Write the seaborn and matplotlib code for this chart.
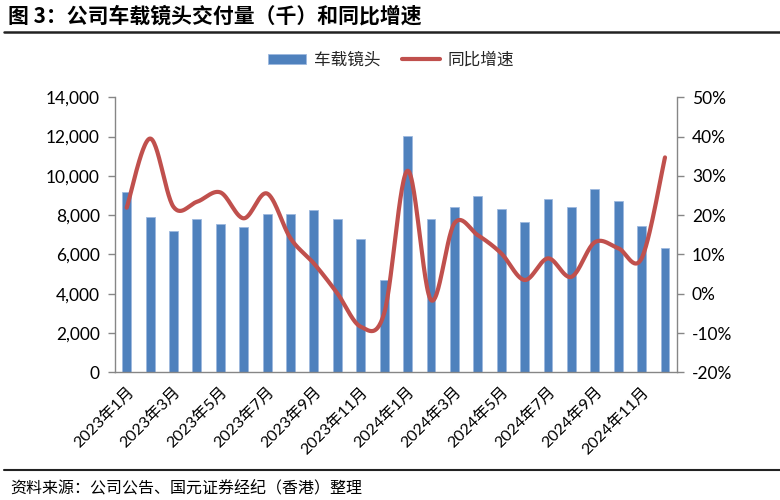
import numpy as np
import pandas as pd
import seaborn as sns
import matplotlib
matplotlib.use("Agg")
import matplotlib.pyplot as plt
from matplotlib.patches import Patch
from matplotlib.lines import Line2D
from matplotlib.ticker import FuncFormatter, FixedLocator

# ---------------- data ----------------
months = ["2023年1月", "2023年2月", "2023年3月", "2023年4月", "2023年5月", "2023年6月",
          "2023年7月", "2023年8月", "2023年9月", "2023年10月", "2023年11月", "2023年12月",
          "2024年1月", "2024年2月", "2024年3月", "2024年4月", "2024年5月", "2024年6月",
          "2024年7月", "2024年8月", "2024年9月", "2024年10月", "2024年11月", "2024年12月"]
volume = [9160, 7910, 7190, 7790, 7570, 7380, 8080, 8080, 8260, 7790, 6770, 4700,
          12030, 7790, 8420, 8960, 8330, 7640, 8810, 8420, 9320, 8710, 7450, 6350]
yoy = [21.9, 39.5, 22.1, 23.4, 25.8, 19.2, 25.5, 14.1, 7.7, 0.1, -8.4, -5.0,
       31.3, -1.6, 17.9, 14.9, 10.3, 3.5, 9.0, 4.3, 13.1, 11.6, 9.0, 34.7]
bar_label = "车载镜头"
line_label = "同比增速"
title = "图 3：公司车载镜头交付量（千）和同比增速"
source = "资料来源：公司公告、国元证券经纪（香港）整理"

BAR_C = "#4F81BD"
LINE_C = "#C0504D"
AX_C = "#868686"

sns.set_theme(style="white")
plt.rcParams["font.family"] = ["Lato", "Noto Sans CJK SC", "DejaVu Sans"]
plt.rcParams["axes.unicode_minus"] = False

fig = plt.figure(figsize=(7.8, 5.0), dpi=100)
ax = fig.add_axes([115 / 780, (500 - 372.3) / 500, (676.7 - 115) / 780, 275 / 500])

df = pd.DataFrame({"month": months, "volume": volume, "yoy": yoy})
sns.barplot(data=df, x="month", y="volume", ax=ax, color=BAR_C, width=0.38,
            saturation=1, edgecolor="#9DB9DF", linewidth=0.6)

ax.set_xlim(-0.5, len(months) - 0.5)
ax.set_ylim(0, 14000)
ax.set_yticks(np.arange(0, 14001, 2000))
ax.yaxis.set_major_formatter(FuncFormatter(lambda v, p: f"{int(v):,}"))
ax.set_xlabel("")
ax.set_ylabel("")

# x ticks: labels at every other category, tick marks at category boundaries
label_pos = list(range(0, len(months), 2))
ax.set_xticks(label_pos)
ax.set_xticklabels([months[i] for i in label_pos], rotation=45, ha="right",
                   rotation_mode="anchor", fontsize=11.5, color="#000000")
ax.tick_params(axis="x", which="major", length=0, pad=9)
ax.xaxis.set_minor_locator(FixedLocator(np.arange(-0.5, len(months), 2)))
ax.tick_params(axis="x", which="minor", length=5, width=1, color=AX_C, direction="out")
ax.tick_params(axis="y", length=5, width=1, color=AX_C, direction="out",
               labelsize=12.5, labelcolor="#000000", pad=6, left=True)

# secondary axis: smoothed line (Bezier through the data points, like a smoothed office chart)
ax2 = ax.twinx()
x = np.arange(len(yoy), dtype=float)
y = np.array(yoy, dtype=float)
P = np.column_stack([x, y])
Pext = np.vstack([P[0], P, P[-1]])
xs, ys = [], []
t = np.linspace(0, 1, 30)
for i in range(len(P) - 1):
    p0, p1, p2, p3 = Pext[i], Pext[i + 1], Pext[i + 2], Pext[i + 3]
    c1 = p1 + (p2 - p0) / 6.0
    c2 = p2 - (p3 - p1) / 6.0
    b = ((1 - t) ** 3)[:, None] * p1 + (3 * (1 - t) ** 2 * t)[:, None] * c1 + \
        (3 * (1 - t) * t ** 2)[:, None] * c2 + (t ** 3)[:, None] * p2
    xs.extend(b[:, 0])
    ys.extend(b[:, 1])
sns.lineplot(x=xs, y=ys, ax=ax2, color=LINE_C, linewidth=3.0, sort=False,
             estimator=None, solid_capstyle="round")
ax2.set_ylim(-20, 50)
ax2.set_yticks(np.arange(-20, 51, 10))
ax2.yaxis.set_major_formatter(FuncFormatter(lambda v, p: f"{int(v)}%"))
ax2.tick_params(axis="y", length=5, width=1, color=AX_C, direction="out",
                labelsize=12.5, labelcolor="#000000", pad=6, right=True)
ax2.set_ylabel("")

for a in (ax, ax2):
    a.spines["top"].set_visible(False)
    for s in ("left", "right", "bottom"):
        a.spines[s].set_color(AX_C)
        a.spines[s].set_linewidth(1)
    a.grid(False)
ax.spines["right"].set_visible(False)
ax2.spines["left"].set_visible(False)
ax2.spines["bottom"].set_visible(False)

# legend
handles = [Patch(facecolor=BAR_C, edgecolor="#9DB9DF", linewidth=0.6),
           Line2D([0], [0], color=LINE_C, linewidth=3.0)]
fig.legend(handles, [bar_label, line_label], loc="center", bbox_to_anchor=(391 / 780, 1 - 60 / 500),
           ncol=2, frameon=False, fontsize=12, handlelength=2.3, handleheight=0.6,
           columnspacing=1.3, handletextpad=0.45)

# title, rules, source
fig.text(8 / 780, 1 - 16 / 500, title, fontsize=15, fontweight="bold",
         family=["Noto Sans CJK SC", "DejaVu Sans"], va="center", ha="left", color="#000000")
fig.add_artist(Line2D([4 / 780, 1.0], [1 - 32 / 500, 1 - 32 / 500], color="#222222",
                      linewidth=1.8, transform=fig.transFigure))
fig.add_artist(Line2D([4 / 780, 1.0], [1 - 470 / 500, 1 - 470 / 500], color="#222222",
                      linewidth=1.5, transform=fig.transFigure))
fig.text(10 / 780, 1 - 488 / 500, source, fontsize=11.5, style="italic",
         family=["Noto Sans CJK SC", "DejaVu Sans"], va="center", ha="left", color="#000000")

fig.savefig("out.png", dpi=100)
